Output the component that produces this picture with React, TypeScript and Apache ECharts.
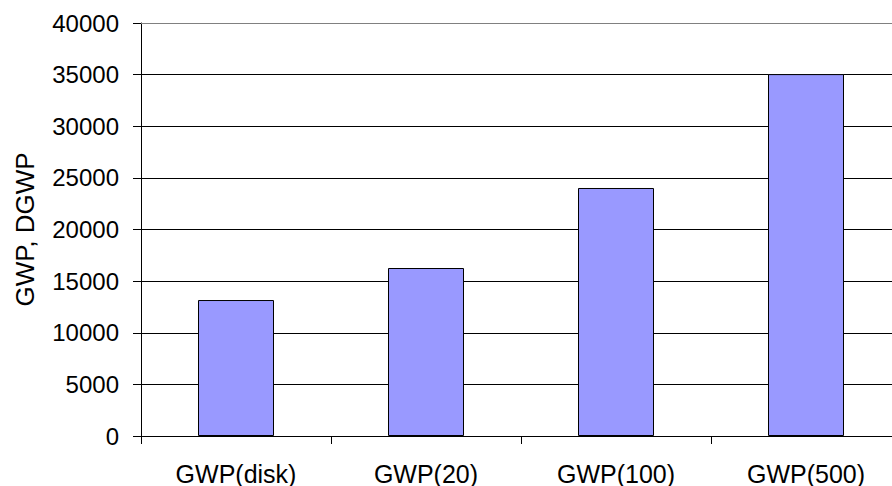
import React, { useEffect, useRef } from "react";
import * as echarts from "echarts";

const categories = ["GWP(disk)", "GWP(20)", "GWP(100)", "GWP(500)"];
const values = [13170, 16270, 24020, 35050];
const yAxisName = "GWP, DGWP";
const yMin = 0;
const yMax = 40000;
const yInterval = 5000;

const FONT = "'Liberation Sans', Arial, sans-serif";

export default function App() {
  const ref = useRef<HTMLDivElement>(null);
  useEffect(() => {
    if (!ref.current) return;
    const chart = echarts.init(ref.current, undefined, { renderer: "svg" });
    chart.setOption({
      animation: false,
      backgroundColor: "#ffffff",
      grid: { left: 141, top: 23, height: 413, width: 760, outerBoundsMode: "none", containLabel: false },
      xAxis: {
        type: "category",
        data: categories,
        axisLine: { show: true, lineStyle: { color: "#000", width: 1 } },
        axisTick: { show: true, length: 8, lineStyle: { color: "#000" } },
        axisLabel: { color: "#000", fontSize: 25, lineHeight: 25, fontFamily: FONT, margin: 25 },
      },
      yAxis: {
        type: "value",
        min: yMin,
        max: yMax,
        interval: yInterval,
        name: yAxisName,
        nameLocation: "middle",
        nameRotate: 90,
        nameGap: 103,
        nameTextStyle: { color: "#000", fontSize: 26, fontFamily: FONT },
        axisLine: { show: true, lineStyle: { color: "#000", width: 1 } },
        axisTick: { show: true, length: 8, lineStyle: { color: "#000" } },
        axisLabel: {
          color: "#000",
          fontSize: 24,
          fontFamily: FONT,
          margin: 22,
          formatter: (v: number) => String(v),
        },
        splitLine: { show: true, lineStyle: { color: "#000", width: 1 } },
      },
      series: [
        {
          type: "bar",
          data: values,
          barWidth: "40%",
          itemStyle: { color: "#9999FF", borderColor: "#000", borderWidth: 1 },
          markLine: {
            silent: true,
            symbol: "none",
            label: { show: false },
            lineStyle: { color: "#808080", type: "solid", width: 1 },
            data: [{ yAxis: yMax }],
          },
        },
      ],
    });
    return () => chart.dispose();
  }, []);
  return (
    <div
      ref={ref}
      style={{ position: "fixed", left: 0, top: 0, width: 892, height: 486, background: "#fff" }}
    />
  );
}
